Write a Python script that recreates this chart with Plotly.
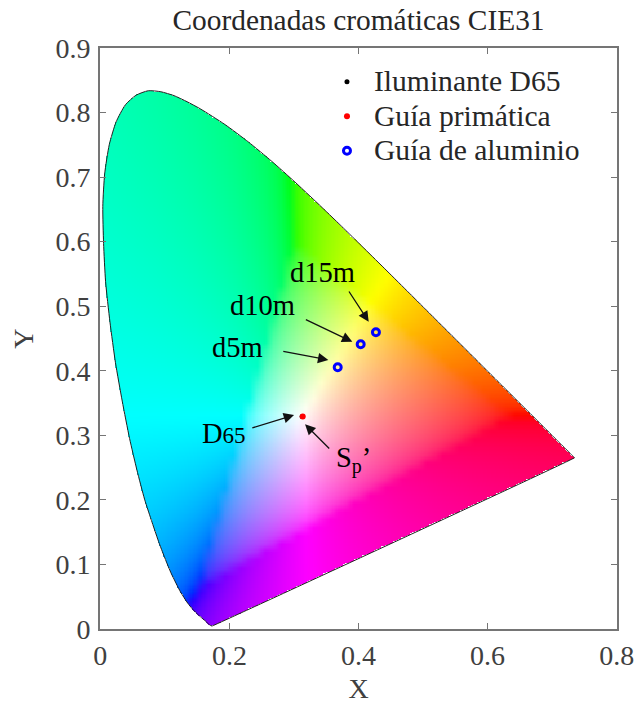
import numpy as np
import plotly.graph_objects as go

# CIE 1931 spectral locus, blue end to red end
locus_x = [0.1741,0.1740,0.1738,0.1736,0.1733,0.1730,0.1726,0.1721,0.1714,0.1703,0.1689,0.1669,0.1644,0.1611,
           0.1566,0.1510,0.1440,0.1355,0.1241,0.1096,0.1010,0.0913,0.0803,0.0687,0.0567,0.0454,0.0340,0.0235,
           0.0150,0.0082,0.0051,0.0039,0.0068,0.0139,0.0245,0.0389,0.0553,0.0743,0.0940,0.1142,0.1344,0.1547,
           0.1929,0.2296,0.2658,0.3016,0.3373,0.3731,0.4087,0.4441,0.4788,0.5125,0.5448,
           0.5752,0.6029,0.6270,0.6482,0.6658,0.6801,0.6915,0.7006,0.7079,0.7140,0.7190,0.7230,0.7260,0.7283,
           0.7300,0.7311,0.7320,0.7327,0.7334,0.7340,0.7344,0.7346,0.7347]
locus_y = [0.0050,0.0050,0.0049,0.0049,0.0048,0.0048,0.0048,0.0048,0.0051,0.0058,0.0069,0.0086,0.0109,0.0138,
           0.0177,0.0227,0.0297,0.0399,0.0578,0.0868,0.1075,0.1327,0.1650,0.2007,0.2465,0.2950,0.3530,0.4127,
           0.4755,0.5384,0.5975,0.6548,0.7050,0.7502,0.7855,0.8120,0.8268,0.8338,0.8322,0.8262,0.8168,0.8059,
           0.7816,0.7543,0.7243,0.6923,0.6589,0.6245,0.5896,0.5547,0.5202,0.4866,0.4544,
           0.4242,0.3965,0.3725,0.3514,0.3340,0.3197,0.3083,0.2993,0.2920,0.2859,0.2809,0.2770,0.2740,0.2717,
           0.2700,0.2689,0.2680,0.2673,0.2666,0.2660,0.2656,0.2654,0.2653]

d65_x = [0.3127]
d65_y = [0.3290]
prism_x = [0.3136]
prism_y = [0.3290]
alu_x = [0.3678, 0.4034, 0.4270]
alu_y = [0.4054, 0.4410, 0.4596]

xticks = [0, 0.2, 0.4, 0.6, 0.8]
xticklabels = ["0", "0.2", "0.4", "0.6", "0.8"]
yticks = [0, 0.1, 0.2, 0.3, 0.4, 0.5, 0.6, 0.7, 0.8, 0.9]
yticklabels = ["0", "0.1", "0.2", "0.3", "0.4", "0.5", "0.6", "0.7", "0.8", "0.9"]

L, R, T, B = 100, 617, 48, 629
def dx(px): return (px - L) / (R - L) * 0.8
def dy(py): return (B - py) / (B - T) * 0.9

# Colour field: chromaticity to sRGB on a coarse grid, out-of-gamut colours get white added,
# then normalise, gamma-encode and resample bilinearly to the drawn grid
coarse = 0.0125
cx = np.arange(0, 0.8 + coarse, coarse) + coarse / 2
cy = np.arange(0, 0.9 + coarse, coarse) + coarse / 2
CX, CY = np.meshgrid(cx, cy)
CXYZ_X = CX / CY
CXYZ_Z = (1 - CX - CY) / CY
M = np.array([[3.2406, -1.5372, -0.4986], [-0.9689, 1.8758, 0.0415], [0.0557, -0.2040, 1.0570]])
crgb = np.stack([M[i, 0] * CXYZ_X + M[i, 1] + M[i, 2] * CXYZ_Z for i in range(3)], axis=-1)
crgb = crgb + np.clip(-crgb.min(axis=-1, keepdims=True), 0, None)
crgb = np.clip(crgb, 0, None)
crgb = crgb / crgb.max(axis=-1, keepdims=True)
crgb = np.where(crgb <= 0.0031308, 12.92 * crgb, 1.055 * np.power(crgb, 1 / 2.4) - 0.055)

step = 0.002
gx = np.arange(0, 0.8, step) + step / 2
gy = np.arange(0, 0.9, step) + step / 2
XX, YY = np.meshgrid(gx, gy)
rgb = np.zeros(XX.shape + (3,))
for c in range(3):
    rows = np.array([np.interp(gx, cx, crgb[r, :, c]) for r in range(len(cy))])
    rgb[:, :, c] = np.array([np.interp(gy, cy, rows[:, k]) for k in range(len(gx))]).T

px_, py_ = np.array(locus_x), np.array(locus_y)
inside = np.zeros(XX.shape, bool)
for i in range(len(px_)):
    j = (i + 1) % len(px_)
    cond = (py_[i] > YY) != (py_[j] > YY)
    with np.errstate(divide="ignore", invalid="ignore"):
        xc = px_[i] + (YY - py_[i]) * (px_[j] - px_[i]) / (py_[j] - py_[i])
    inside ^= cond & (XX < xc)
rgba = np.dstack([np.round(rgb * 255).astype(int), inside.astype(int)]).tolist()

LEG = "<span style='font-size:29.6px'>%s</span>"

fig = go.Figure()
fig.add_trace(go.Image(z=rgba, colormodel="rgba", x0=gx[0], dx=step, y0=gy[0], dy=step, hoverinfo="skip"))
fig.add_trace(go.Scatter(x=locus_x + locus_x[:1], y=locus_y + locus_y[:1], mode="lines",
                         line=dict(color="#222222", width=1, shape="spline", smoothing=0.6),
                         showlegend=False, hoverinfo="skip"))
fig.add_trace(go.Scatter(x=d65_x, y=d65_y, mode="markers", name=LEG % "Iluminante D65",
                         marker=dict(color="black", size=5)))
fig.add_trace(go.Scatter(x=prism_x, y=prism_y, mode="markers", name=LEG % "Guía primática",
                         marker=dict(color="#ff0000", size=6)))
fig.add_trace(go.Scatter(x=alu_x, y=alu_y, mode="markers", name=LEG % "Guía de aluminio",
                         marker=dict(color="rgba(0,0,0,0)", size=7, line=dict(color="#0000ff", width=3))))

SERIF = "Liberation Serif"
def label(text, cx, cy, size=28.5):
    fig.add_annotation(x=dx(cx), y=dy(cy), text=text, showarrow=False, xref="x", yref="y",
                       font=dict(family=SERIF, size=size, color="black"), xanchor="center", yanchor="middle")
def arrow(x0, y0, x1, y1):
    fig.add_annotation(x=dx(x1), y=dy(y1), ax=dx(x0), ay=dy(y0), xref="x", yref="y", axref="x", ayref="y",
                       text="", showarrow=True, arrowhead=2, arrowsize=1.6, arrowwidth=1.3, arrowcolor="#111111")

label("d15m", 322, 272)
label("d10m", 262, 305)
label("d5m", 237, 347)
label("D<span style='font-size:23px'>65</span>", 224, 433)
label("S<sub>p</sub>’", 353, 460)
arrow(348, 290, 368.7, 321.7)
arrow(304.3, 319, 352.3, 341.7)
arrow(281.7, 351, 328.3, 360)
arrow(250.7, 428.3, 294, 415)
arrow(330.7, 450, 305, 424.3)

axis = dict(showgrid=False, zeroline=False, showline=True, linecolor="#757575", linewidth=2, mirror="ticks",
            ticks="inside", ticklen=6, tickwidth=1, tickcolor="#757575", ticklabeloverflow="allow",
            tickfont=dict(family=SERIF, size=28, color="#404040"))
fig.update_xaxes(range=[0, 0.8], tickvals=xticks, ticktext=xticklabels, scaleanchor=False, constrain="range",
                 title=dict(text="X", font=dict(family=SERIF, size=28, color="#404040"), standoff=10), **axis)
fig.update_yaxes(range=[0, 0.9], tickvals=yticks, ticktext=yticklabels, constrain="range", ticklabelstandoff=2,
                 title=dict(text="Y", font=dict(family=SERIF, size=28, color="#404040"), standoff=14), **axis)
fig.update_layout(width=634, height=704, margin=dict(l=L, r=634 - R, t=T, b=704 - B, autoexpand=False),
                  paper_bgcolor="white", plot_bgcolor="white",
                  title=dict(text="Coordenadas cromáticas CIE31", x=358.5 / 634, xanchor="center", y=1 - 20 / 704,
                             yanchor="middle", font=dict(family=SERIF, size=29.4, color="#262626")),
                  legend=dict(x=0.4255, y=0.98, xanchor="left", yanchor="top", bgcolor="rgba(0,0,0,0)", itemwidth=44,
                              font=dict(family=SERIF, size=24.2, color="#262626"), tracegroupgap=0))
fig.write_html("out.html", post_script="document.body.style.margin='0';", config={"displayModeBar": False})
